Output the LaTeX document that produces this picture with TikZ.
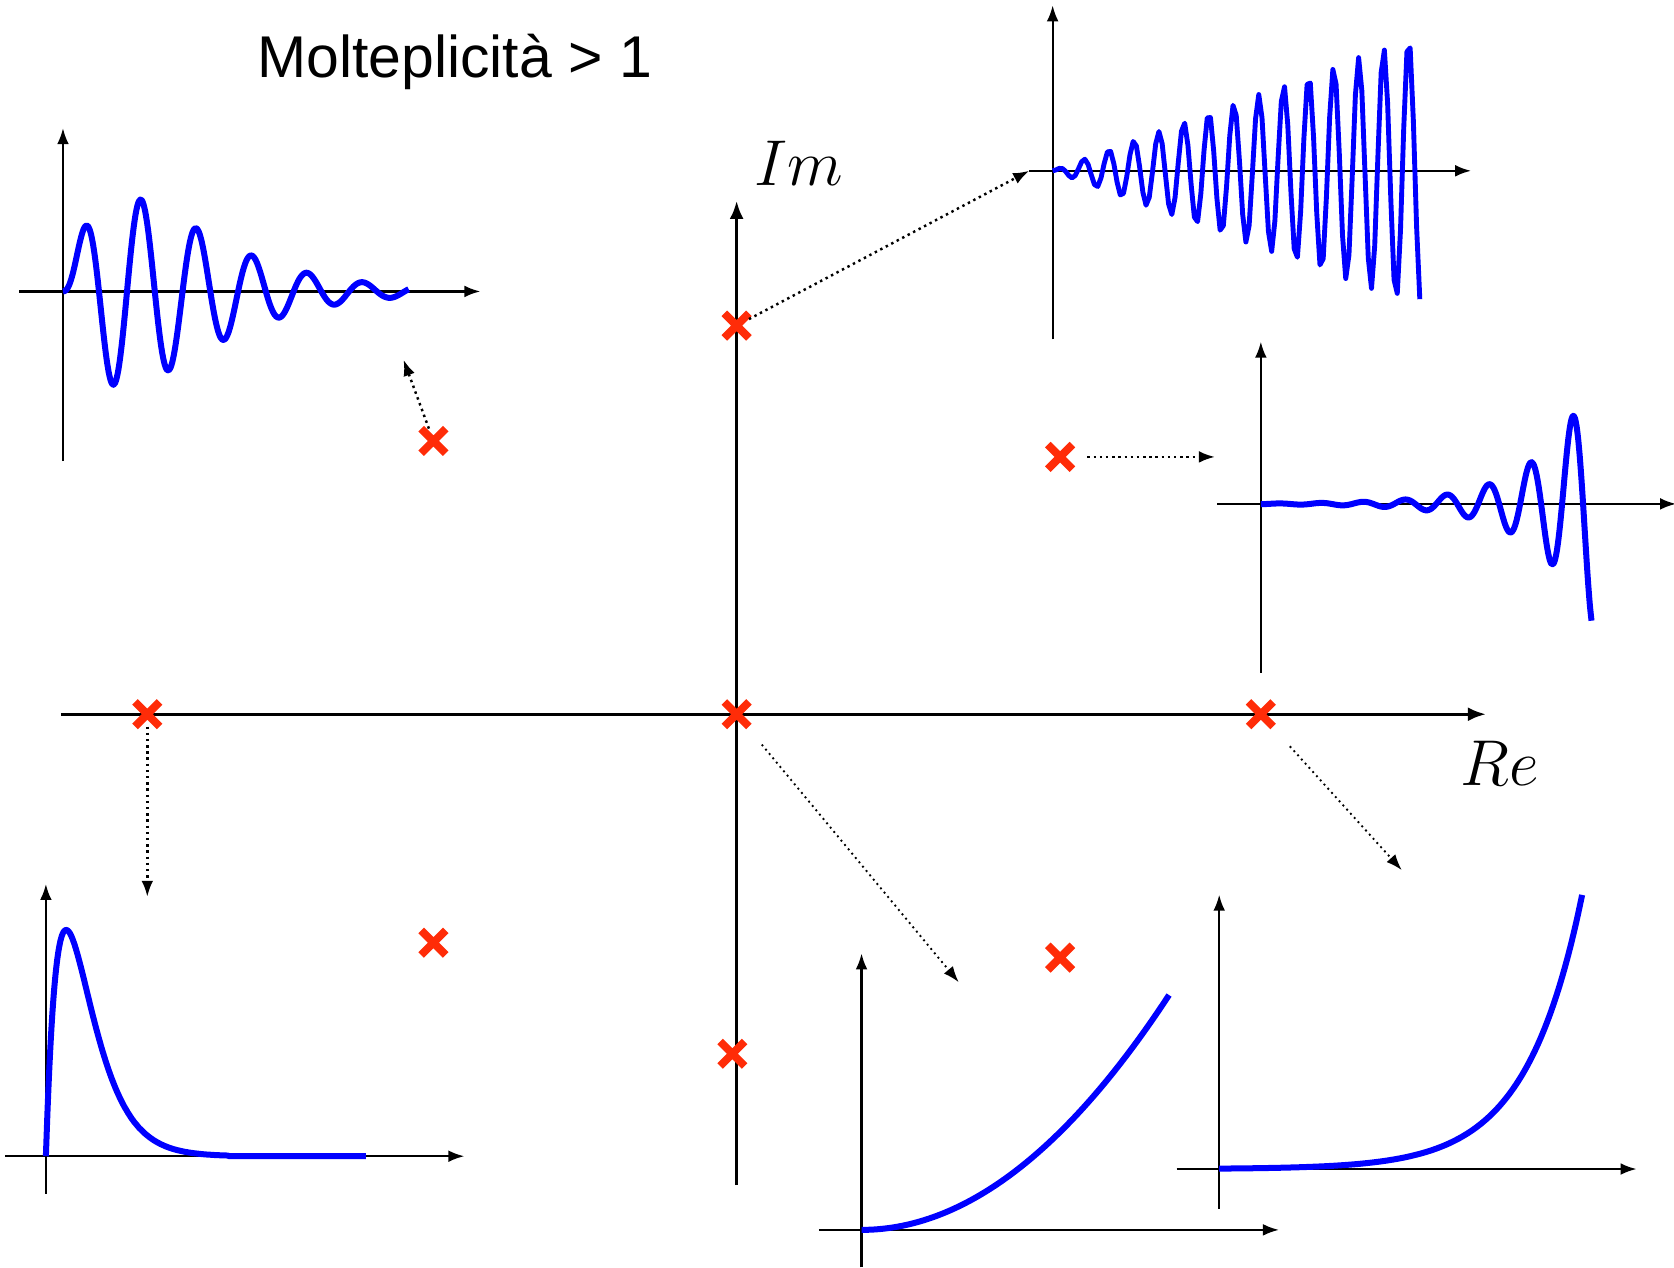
\documentclass[tikz,border=0pt]{standalone}
\usepackage{fontspec}
\setmainfont{Liberation Sans}
\usetikzlibrary{arrows.meta,shapes.misc}
\definecolor{polered}{RGB}{255,44,8}
\begin{document}
\begin{tikzpicture}[
  pole/.style={cross out, draw=polered, line width=2.1pt, minimum size=0.16cm, inner sep=0pt, outer sep=1pt},
  ax/.style={line width=0.6pt, -{Latex[length=0.15cm,width=0.11cm]}},
  mainax/.style={line width=0.9pt, -{Latex[length=0.17cm,width=0.13cm]}},
  link/.style={densely dotted, line width=0.65pt, -{Latex[length=0.15cm,width=0.11cm]}},
  resp/.style={blue, line width=1.6pt, line join=round},
  lab/.style={font=\fontsize{17}{20}\selectfont}]
  \useasboundingbox (-6.90,-5.18) rectangle (8.78,6.69);
  \node[font=\fontsize{15.7}{19}\selectfont] (title) at (-2.64,6.11) {Molteplicità > 1};
  % piano complesso
  \draw[mainax] (-6.33,0) -- (7.02,0);
  \draw[mainax] (0,-4.41) -- (0,4.81);
  \node[lab] (im) at (0.58,5.16) {$Im$};
  \node[lab] (re) at (7.15,-0.46) {$Re$};
  % poli
  \node[pole] (p1) at (0,3.64) {};
  \node[pole] (p2) at (-2.84,2.56) {};
  \node[pole] (p3) at (3.03,2.41) {};
  \node[pole] (p4) at (-5.52,0) {};
  \node[pole] (p5) at (0,0) {};
  \node[pole] (p6) at (4.91,0) {};
  \node[pole] (p7) at (-2.84,-2.14) {};
  \node[pole] (p8) at (3.03,-2.28) {};
  \node[pole] (p9) at (-0.04,-3.18) {};
  % risposte
  \begin{scope}[shift={(-6.31,3.96)}]
    \draw[ax] (-0.41,0) -- (3.91,0);
    \draw[ax] (0,-1.59) -- (0,1.53);
    \draw[resp] plot[domain=0:3.24, samples=220, smooth]
      (\x,{2.42*(\x/0.57)*exp(-\x/0.57)*sin(692.3*(\x-0.08*(1-exp(-\x/0.1))))});
  \end{scope}
  \begin{scope}[shift={(2.96,5.09)}]
    \draw[ax] (-0.22,0) -- (3.92,0);
    \draw[ax] (0,-1.58) -- (0,1.55);
    \draw[resp, line width=1.3pt] plot[domain=0:3.44, samples=115]
      (\x,{0.37*\x*sin(1538.5*\x)});
  \end{scope}
  \begin{scope}[shift={(4.91,1.97)}]
    \draw[ax] (-0.41,0) -- (3.89,0);
    \draw[ax] (0,-1.58) -- (0,1.52);
    \draw[resp] plot[domain=0:3.10, samples=200, smooth]
      (\x,{0.82*exp(1.9*(\x-2.92))*cos(916*(\x-2.92))});
  \end{scope}
  \begin{scope}[shift={(-6.47,-4.14)}]
    \draw[ax] (-0.38,0) -- (3.92,0);
    \draw[ax] (0,-0.35) -- (0,2.55);
    \draw[resp] plot[domain=0:3.00, samples=200, smooth]
      (\x,{5.763*(\x/0.19)*exp(-\x/0.19)});
  \end{scope}
  \begin{scope}[shift={(1.17,-4.83)}]
    \draw[ax] (-0.40,0) -- (3.91,0);
    \draw[ax] (0,-0.35) -- (0,2.59);
    \draw[resp] plot[domain=0:2.88, samples=60, smooth] (\x,{0.2652*\x*\x});
  \end{scope}
  \begin{scope}[shift={(4.52,-4.26)}]
    \draw[ax] (-0.40,0) -- (3.91,0);
    \draw[ax] (0,-0.37) -- (0,2.57);
    \draw[resp] plot[domain=0:3.40, samples=80, smooth] (\x,{2.57*exp(1.9*(\x-3.4))});
  \end{scope}
  % collegamenti
  \coordinate (t1) at (2.74,5.09);
  \coordinate (t2) at (-3.12,3.32);
  \coordinate (t3) at (4.48,2.41);
  \coordinate (t4) at (-5.52,-1.71);
  \coordinate (t5) at (2.08,-2.51);
  \coordinate (t6) at (6.23,-1.46);
  \draw[link] (p1) -- (t1);
  \draw[link] (p2) -- (t2);
  \draw[link, shorten <=0.14cm] (p3) -- (t3);
  \draw[link] (p4) -- (t4);
  \draw[link, line width=0.5pt, shorten <=0.22cm] (p5) -- (t5);
  \draw[link, line width=0.5pt, shorten <=0.25cm] (p6) -- (t6);
\end{tikzpicture}
\end{document}
